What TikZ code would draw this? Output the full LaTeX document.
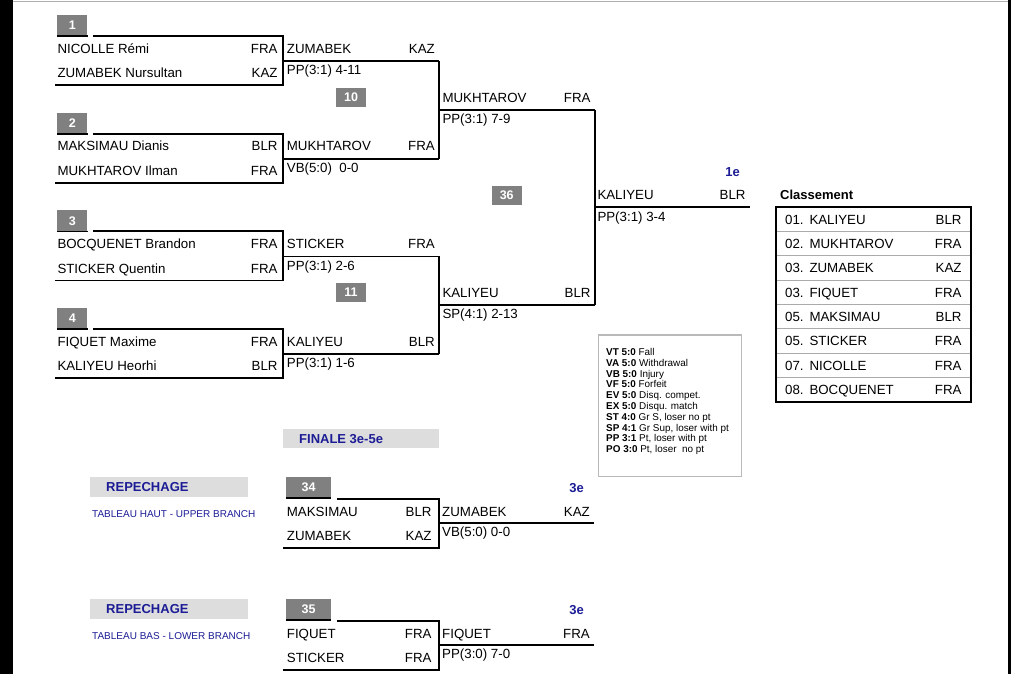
\documentclass[tikz,border=0pt]{standalone}
\usepackage{fontspec}
\setmainfont{Liberation Sans}
\definecolor{boxgray}{RGB}{128,128,128}
\definecolor{bandgray}{RGB}{221,221,221}
\definecolor{navy}{RGB}{28,28,150}
\definecolor{rulegray}{RGB}{175,175,175}
\definecolor{sepgray}{RGB}{170,170,170}
\definecolor{leggray}{RGB}{185,185,185}
\tikzset{
  txt/.style={font=\fontsize{13.3}{15}\selectfont, inner sep=0pt, text height=9.5pt, text depth=0pt},
  lw/.style={txt, anchor=west},
  le/.style={txt, anchor=east},
  numbox/.style={fill=boxgray, text=white, font=\bfseries\fontsize{12.5}{14}\selectfont, minimum width=30pt, minimum height=20pt, inner sep=0pt},
  ln/.style={line width=1.8pt, line join=miter},
  band/.style={fill=bandgray, anchor=north west, inner sep=0pt},
  bluebold/.style={font=\bfseries\fontsize{13}{15}\selectfont, text=navy, inner sep=0pt, text height=9.3pt, text depth=0pt},
  bluesmall/.style={font=\fontsize{10}{12}\selectfont, text=navy, inner sep=0pt, text height=7.2pt, text depth=0pt, anchor=west},
  leg/.style={font=\fontsize{9.9}{11}\selectfont, inner sep=0pt, text height=7.1pt, text depth=0pt, anchor=west},
  boldlbl/.style={font=\bfseries\fontsize{13}{15}\selectfont, inner sep=0pt, text height=9.3pt, text depth=0pt, anchor=west},
}
\begin{document}
\begin{tikzpicture}[x=1pt,y=-1pt]
\useasboundingbox (0,0) rectangle (1013,674);
% page edges
\fill[black] (0,0) rectangle (12.5,674);
\draw[rulegray, line width=1pt] (12.5,1.5) -- (1008,1.5);
\draw[black, line width=2.5pt] (1009.5,0) -- (1009.5,674);

% ---- first round ----
\foreach \i/\t/\num/\na/\ca/\nb/\cb/\w/\cw/\s in {
 1/36/1/NICOLLE Rémi/FRA/ZUMABEK Nursultan/KAZ/ZUMABEK/KAZ/PP(3:1) 4-11,
 2/133.7/2/MAKSIMAU Dianis/BLR/MUKHTAROV Ilman/FRA/MUKHTAROV/FRA/VB(5:0)\ \ 0-0,
 3/231.4/3/BOCQUENET Brandon/FRA/STICKER Quentin/FRA/STICKER/FRA/PP(3:1) 2-6,
 4/329.1/4/FIQUET Maxime/FRA/KALIYEU Heorhi/BLR/KALIYEU/BLR/PP(3:1) 1-6}
{
  \node[numbox, minimum height=21pt] (box\i) at (72.3,\t-10.5) {\num};
  \draw[ln] (box\i.south west) -- (box\i.south east);
  \coordinate (tl\i) at (93,\t);
  \coordinate (tr\i) at (283.3,\t);
  \coordinate (br\i) at (283.3,\t+49);
  \coordinate (bl\i) at (55,\t+49);
  \draw[ln] (tl\i) -- (tr\i) -- (br\i) -- (bl\i);
  \node[lw] (na\i) at (57.3,\t+12.3) {\na};
  \node[le] (ca\i) at (277.7,\t+12.3) {\ca};
  \node[lw] (nb\i) at (57.3,\t+37) {\nb};
  \node[le] (cb\i) at (277.7,\t+37) {\cb};
  \coordinate (wl\i) at (283.3,\t+25);
  \coordinate (wr\i) at (439.3,\t+25);
  \draw[ln] (wl\i) -- (wr\i);
  \node[lw] (w\i) at (286.7,\t+12.3) {\w};
  \node[le] (cw\i) at (435,\t+12.3) {\cw};
  \node[lw] (s\i) at (286.7,\t+34) {\s};
}

% ---- second round ----
\coordinate (m1l) at (439.3,109.85);
\coordinate (m1r) at (595,109.85);
\coordinate (m2l) at (439.3,304.8);
\coordinate (m2r) at (595,304.8);
\draw[ln] (wr1) -- (wr2);
\draw[ln] (wr3) -- (wr4);
\draw[ln] (m1l) -- (m1r);
\draw[ln] (m2l) -- (m2r);
\node[numbox, minimum height=19pt] (b10) at (351,97.5) {10};
\node[numbox, minimum height=19pt] (b11) at (351,292.3) {11};
\node[lw] (r2a) at (442.3,97.6) {MUKHTAROV};
\node[le] (r2ac) at (590.7,97.6) {FRA};
\node[lw] (r2as) at (442.3,118.6) {PP(3:1) 7-9};
\node[lw] (r2b) at (442.3,292.3) {KALIYEU};
\node[le] (r2bc) at (590.7,292.3) {BLR};
\node[lw] (r2bs) at (442.3,313.3) {SP(4:1) 2-13};

% ---- final ----
\coordinate (fl) at (595,207.3);
\coordinate (fr) at (750,207.3);
\draw[ln] (m1r) -- (m2r);
\draw[ln] (fl) -- (fr);
\node[numbox, minimum height=19pt] (b36) at (506.7,195.7) {36};
\node[lw] (fw) at (597.3,195) {KALIYEU};
\node[le] (fwc) at (745.7,195) {BLR};
\node[lw] (fs) at (597.3,216.3) {PP(3:1) 3-4};
\node[bluebold, anchor=east] (first) at (740,171.7) {1e};

% ---- classement ----
\node[boldlbl] (cls) at (780,195) {Classement};
\foreach \k in {1,...,7}{
  \draw[sepgray, line width=0.9pt] (775.7,207.3+24.3*\k) -- (971,207.3+24.3*\k);
}
\draw[line width=1.6pt] (775.7,207.3) rectangle (971,401.7);
\foreach \k/\r/\n/\c in {0/01./KALIYEU/BLR,1/02./MUKHTAROV/FRA,2/03./ZUMABEK/KAZ,3/03./FIQUET/FRA,
  4/05./MAKSIMAU/BLR,5/05./STICKER/FRA,6/07./NICOLLE/FRA,7/08./BOCQUENET/FRA}{
  \node[lw] (cr\k) at (785,219.5+24.3*\k) {\r};
  \node[lw] (cn\k) at (809.3,219.5+24.3*\k) {\n};
  \node[le] (cc\k) at (961.7,219.5+24.3*\k) {\c};
}

% ---- legend ----
\draw[leggray, line width=1.2pt] (598.3,335) rectangle (741.7,476.7);
\foreach \k/\a/\b in {0/VT 5:0/Fall,1/VA 5:0/Withdrawal,2/VB 5:0/Injury,3/VF 5:0/Forfeit,
  4/EV 5:0/Disq. compet.,5/EX 5:0/Disqu. match,6/ST 4:0/{Gr S, loser no pt},
  7/SP 4:1/{Gr Sup, loser with pt},8/PP 3:1/{Pt, loser with pt},9/PO 3:0/{Pt, loser\ \ no pt}}{
  \node[leg] (lg\k) at (606,352+10.78*\k) {\textbf{\a} \b};
}

% ---- finale 3e-5e band ----
\node[band, minimum width=156pt, minimum height=19pt] (finband) at (283,429) {};
\node[bluebold, anchor=west] (fintxt) at (299,438.5) {FINALE 3e-5e};

% ---- repechage ----
\foreach \i/\t/\lab/\na/\ca/\nb/\cb/\w/\cw/\s/\tab in {
 34/499/REP1/MAKSIMAU/BLR/ZUMABEK/KAZ/ZUMABEK/KAZ/VB(5:0) 0-0/TABLEAU HAUT - UPPER BRANCH,
 35/621/REP2/FIQUET/FRA/STICKER/FRA/FIQUET/FRA/PP(3:0) 7-0/TABLEAU BAS - LOWER BRANCH}
{
  \node[band, minimum width=158pt, minimum height=20pt] (rb\i) at (90,\t-22) {};
  \node[bluebold, anchor=west] (rt\i) at (106,\t-12) {REPECHAGE};
  \node[bluesmall] (tb\i) at (92,\t+15) {\tab};
  \node[numbox, minimum width=45pt, minimum height=21pt] (box\i) at (308.5,\t-11.5) {\i};
  \draw[ln] (box\i.south west) -- (box\i.south east);
  \coordinate (tl\i) at (337,\t);
  \coordinate (tr\i) at (439.3,\t);
  \coordinate (br\i) at (439.3,\t+49);
  \coordinate (bl\i) at (283,\t+49);
  \draw[ln] (tl\i) -- (tr\i) -- (br\i) -- (bl\i);
  \node[lw] (na\i) at (286.7,\t+13) {\na};
  \node[le] (ca\i) at (431.7,\t+13) {\ca};
  \node[lw] (nb\i) at (286.7,\t+36.5) {\nb};
  \node[le] (cb\i) at (431.7,\t+36.5) {\cb};
  \coordinate (wl\i) at (439.3,\t+24);
  \coordinate (wr\i) at (594,\t+24);
  \draw[ln] (wl\i) -- (wr\i);
  \node[lw] (w\i) at (442,\t+13) {\w};
  \node[le] (cw\i) at (590,\t+13) {\cw};
  \node[lw] (s\i) at (442,\t+32.5) {\s};
  \node[bluebold, anchor=east] (th\i) at (584,\t-11) {3e};
}
\end{tikzpicture}
\end{document}
